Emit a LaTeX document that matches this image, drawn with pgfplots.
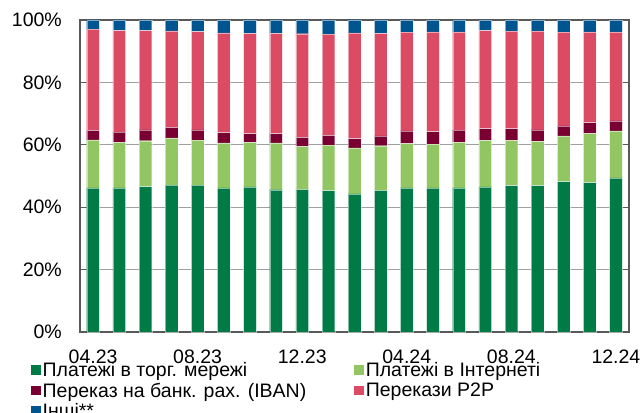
\documentclass[border=0pt]{standalone}
\usepackage{fontspec}
\setmainfont{Liberation Sans}
\usepackage{pgfplots}
\pgfplotsset{compat=1.18}
\usepackage{pgfplotstable}
\definecolor{cD}{HTML}{007B46}
\definecolor{cL}{HTML}{92C663}
\definecolor{cI}{HTML}{7A0032}
\definecolor{cP}{HTML}{DB4C64}
\definecolor{cO}{HTML}{005591}
\definecolor{frame}{HTML}{595959}
\definecolor{gridc}{HTML}{A0A0A0}
\pgfplotstableread{
x D L I P O
0 46.2 15.4 3.0 32.5 2.9
1 46.2 14.6 3.3 32.5 3.4
2 46.6 14.7 3.5 31.8 3.4
3 47.1 15.1 3.4 30.9 3.5
4 47.1 14.4 3.3 31.5 3.7
5 46.2 14.4 3.3 32.0 4.1
6 46.5 14.3 2.8 32.1 4.3
7 45.6 15.0 3.0 32.1 4.3
8 45.7 13.7 3.0 33.2 4.4
9 45.3 14.6 3.1 32.5 4.5
10 44.3 14.7 3.0 33.9 4.1
11 45.4 14.3 3.2 32.8 4.3
12 46.2 14.2 4.1 31.6 3.9
13 46.2 14.0 4.0 32.0 3.8
14 46.2 14.6 3.9 31.5 3.8
15 46.5 14.9 3.8 31.4 3.4
16 46.9 14.5 3.8 31.2 3.6
17 46.9 14.2 3.7 31.6 3.6
18 48.2 14.7 3.2 30.0 3.9
19 47.9 15.7 3.5 29.1 3.8
20 49.4 15.1 3.2 28.5 3.8
}\data
\newcommand{\fs}{\fontsize{19.5}{21}\selectfont}
\begin{document}
\begin{tikzpicture}
\begin{axis}[
  at={(0pt,0pt)}, anchor=south west,
  scale only axis, width=549pt, height=312pt,
  xmin=-0.5, xmax=20.5, ymin=0, ymax=100,
  ybar stacked, bar width=12.7pt,
  axis line style={draw=frame, line width=1.3pt},
  ymajorgrids, grid style={draw=gridc, line width=1.1pt},
  ytick={0,20,40,60,80,100},
  yticklabels={0\%,20\%,40\%,60\%,80\%,100\%},
  xtick={0,4,8,12,16,20},
  xticklabels={04.23,08.23,12.23,04.24,08.24,12.24},
  major x tick style={draw=none},
  extra x ticks={3.5,7.5,11.5,15.5,19.5},
  extra x tick labels={},
  extra x tick style={grid=none, major tick style={draw=frame, line width=1pt}},
  tick align=inside, major tick length=6pt,
  ytick style={draw=frame, line width=1pt},
  tick label style={font=\fs},
  xticklabel style={inner sep=0pt, yshift=-18pt},
  yticklabel style={inner sep=0pt, xshift=-18pt},
  legend columns=2,
  legend cell align=left,
  legend style={at={(-49pt,-28pt)}, anchor=north west, draw=none, fill=none,
    font=\fs, inner sep=0pt, row sep=1pt,
    /tikz/every even column/.append style={column sep=46pt}},
  legend image code/.code={\fill[#1, draw=none] (0pt,-4.5pt) rectangle (9.5pt,5pt);},
  every axis plot/.append style={draw=white, draw opacity=0.5, line width=0.4pt},
]
\addplot[fill=cD] table[x=x, y=D] {\data};
\addplot[fill=cL] table[x=x, y=L] {\data};
\addplot[fill=cI] table[x=x, y=I] {\data};
\addplot[fill=cP] table[x=x, y=P] {\data};
\addplot[fill=cO] table[x=x, y=O] {\data};
\legend{Платежі в торг. мережі, Платежі в Інтернеті, Переказ на банк. рах. (IBAN), Перекази P2P, Інші**}
\end{axis}
\pgfresetboundingbox
\useasboundingbox (-80pt,-80pt) rectangle (562pt,332pt);
\end{tikzpicture}
\end{document}
